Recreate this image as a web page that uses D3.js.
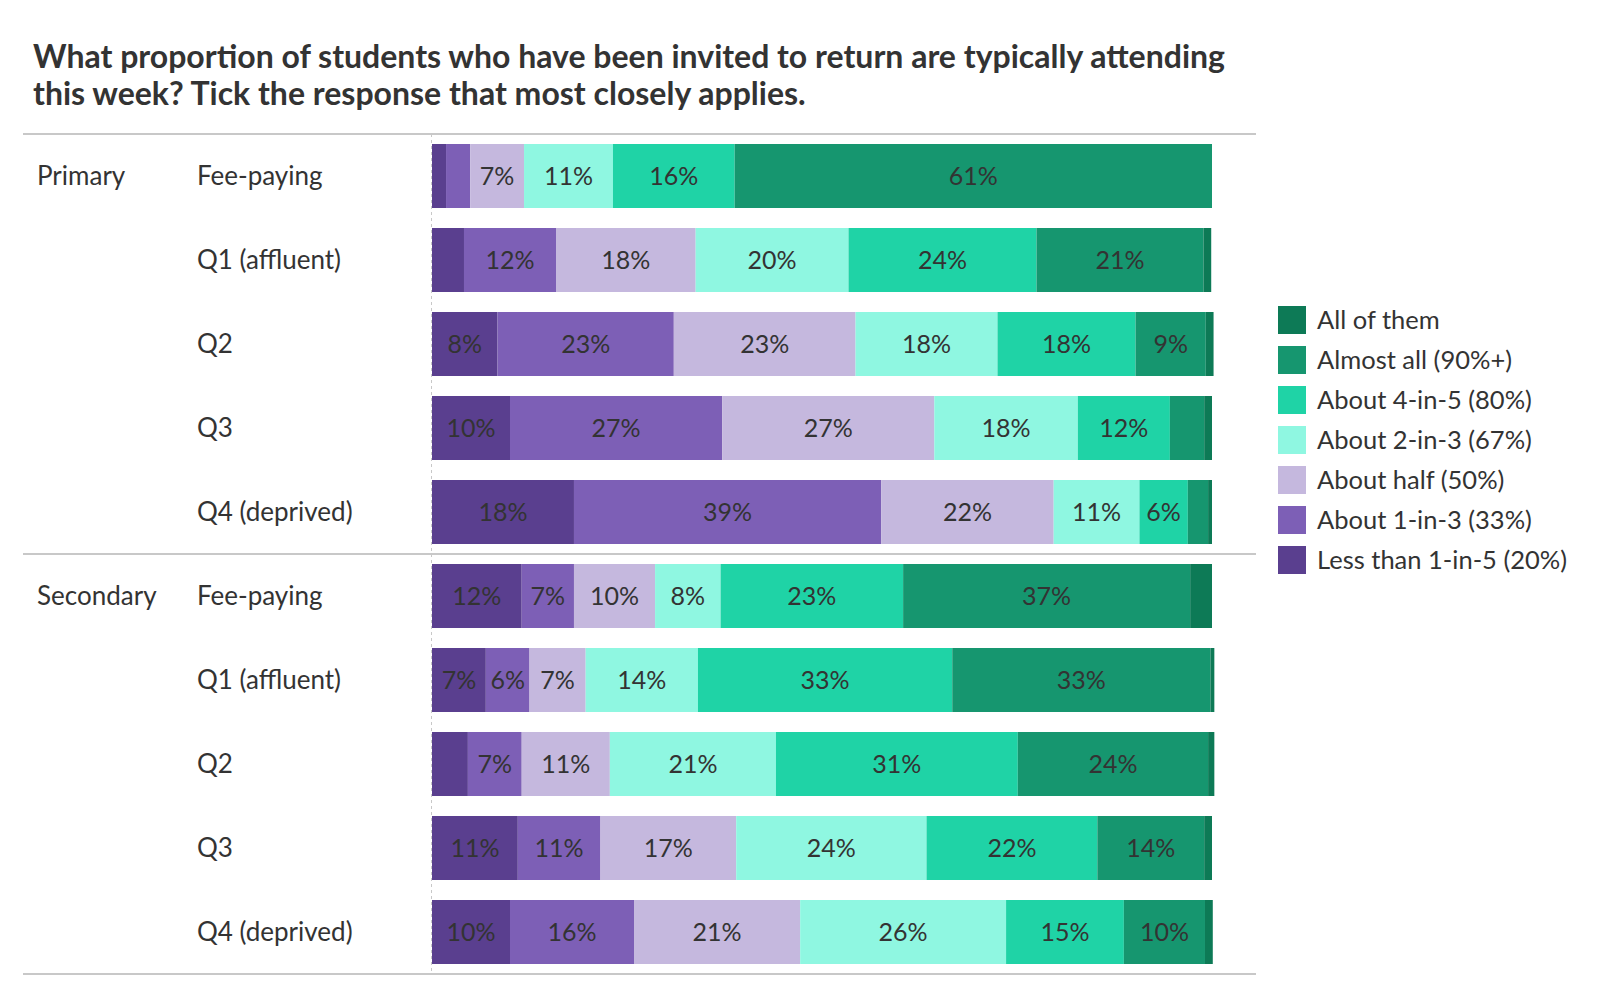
<!DOCTYPE html>
<html>
<head>
<meta charset="utf-8">
<script src="https://cdn.jsdelivr.net/npm/d3@7"></script>
<style>
  body { margin: 0; background: #fff; }
  text { font-family: Lato, "Noto Sans", sans-serif; }
</style>
</head>
<body>
<script>
// school phase and deprivation band for each row
const phases = ["Primary", "Secondary"];
const bands = ["Fee-paying", "Q1 (affluent)", "Q2", "Q3", "Q4 (deprived)"];

// response options, left to right in each bar
const responses = [
  "Less than 1-in-5 (20%)",
  "About 1-in-3 (33%)",
  "About half (50%)",
  "About 2-in-3 (67%)",
  "About 4-in-5 (80%)",
  "Almost all (90%+)",
  "All of them"
];
const colors = ["#5a3f8f", "#7d5fb6", "#c5b8de", "#8ff7e1", "#1fd3a6", "#16966f", "#0d7a56"];

// % of schools, rows = Primary x5 then Secondary x5
const lessThanOneInFive = [1.8, 4.1, 8.4, 10.0, 18.2, 11.5, 6.9, 4.6, 11.0, 10.0];
const aboutOneInThree   = [3.1, 11.8, 22.6, 27.2, 39.4, 6.7, 5.6, 6.9, 10.6, 15.9];
const aboutHalf         = [6.9, 17.9, 23.3, 27.2, 22.1, 10.4, 7.2, 11.3, 17.4, 21.3];
const aboutTwoInThree   = [11.4, 19.6, 18.2, 18.4, 11.0, 8.4, 14.4, 21.3, 24.4, 26.4];
const aboutFourInFive   = [15.6, 24.1, 17.7, 11.8, 6.2, 23.4, 32.6, 31.0, 21.9, 15.1];
const almostAll         = [61.2, 21.4, 9.0, 4.4, 2.6, 36.8, 33.1, 24.4, 13.7, 10.4];
const allOfThem         = [0.0, 1.0, 1.0, 1.0, 0.5, 2.8, 0.5, 0.8, 1.0, 1.0];

const series = [lessThanOneInFive, aboutOneInThree, aboutHalf, aboutTwoInThree,
                aboutFourInFive, almostAll, allOfThem];

const title = [
  "What proportion of students who have been invited to return are typically attending",
  "this week? Tick the response that most closely applies."
];

// build one record per row for d3.stack
const rows = [];
phases.forEach((p, pi) => {
  bands.forEach((b, bi) => {
    const i = pi * bands.length + bi;
    const o = { key: p + "|" + b, phase: p, band: b, first: bi === 0 };
    responses.forEach((r, ri) => { o[r] = series[ri][i]; });
    rows.push(o);
  });
});

const stacked = d3.stack().keys(responses)(rows);

const svg = d3.select("body").append("svg")
  .attr("width", 1600)
  .attr("height", 1000);

const x = d3.scaleLinear().domain([0, 100]).range([432, 1212]);
const y = d3.scaleBand()
  .domain(rows.map(d => d.key))
  .range([134, 974])
  .paddingInner(20 / 84)
  .paddingOuter(10 / 84);
const color = d3.scaleOrdinal().domain(responses).range(colors);

// title
svg.append("text")
  .attr("x", 33)
  .attr("y", 68)
  .attr("fill", "#333")
  .attr("font-size", 32)
  .attr("font-weight", 700)
  .selectAll("tspan")
  .data(title)
  .join("tspan")
  .attr("x", 33)
  .attr("dy", (d, i) => i === 0 ? 0 : 37)
  .text(d => d);

// rules
const ruleY = [134, y(rows[bands.length].key) - 10, 974];
svg.selectAll("line.rule")
  .data(ruleY)
  .join("line")
  .attr("class", "rule")
  .attr("x1", 23).attr("x2", 1256)
  .attr("y1", d => d).attr("y2", d => d)
  .attr("stroke", "#c8c8c8")
  .attr("stroke-width", 2);

svg.append("line")
  .attr("x1", x(0) - 0.5).attr("x2", x(0) - 0.5)
  .attr("y1", 134).attr("y2", 974)
  .attr("stroke", "#c8c8c8")
  .attr("stroke-dasharray", "3,3");

// bars
const layer = svg.append("g").selectAll("g")
  .data(stacked)
  .join("g")
  .attr("fill", d => color(d.key));

layer.selectAll("rect")
  .data(d => d)
  .join("rect")
  .attr("x", d => x(d[0]))
  .attr("y", d => y(d.data.key))
  .attr("width", d => x(d[1]) - x(d[0]))
  .attr("height", y.bandwidth());

// value labels
layer.selectAll("text")
  .data(d => d.filter(s => s[1] - s[0] >= 5))
  .join("text")
  .attr("x", d => (x(d[0]) + x(d[1])) / 2)
  .attr("y", d => y(d.data.key) + y.bandwidth() / 2)
  .attr("dy", "0.35em")
  .attr("text-anchor", "middle")
  .attr("font-size", 25)
  .attr("fill", "#333")
  .text(d => Math.round(d[1] - d[0]) + "%");

// row labels
svg.append("g").selectAll("text")
  .data(rows)
  .join("text")
  .attr("x", 197)
  .attr("y", d => y(d.key) + y.bandwidth() / 2)
  .attr("dy", "0.35em")
  .attr("font-size", 26)
  .attr("fill", "#333")
  .text(d => d.band);

svg.append("g").selectAll("text")
  .data(rows.filter(d => d.first))
  .join("text")
  .attr("x", 37)
  .attr("y", d => y(d.key) + y.bandwidth() / 2)
  .attr("dy", "0.35em")
  .attr("font-size", 26)
  .attr("fill", "#333")
  .text(d => d.phase);

// legend, top item is the last response
const legend = svg.append("g")
  .selectAll("g")
  .data(responses.slice().reverse())
  .join("g")
  .attr("transform", (d, i) => `translate(1278,${306 + i * 40})`);

legend.append("rect")
  .attr("width", 28)
  .attr("height", 28)
  .attr("fill", d => color(d));

legend.append("text")
  .attr("x", 39)
  .attr("y", 14)
  .attr("dy", "0.35em")
  .attr("font-size", 25.5)
  .attr("fill", "#333")
  .text(d => d);
</script>
</body>
</html>
